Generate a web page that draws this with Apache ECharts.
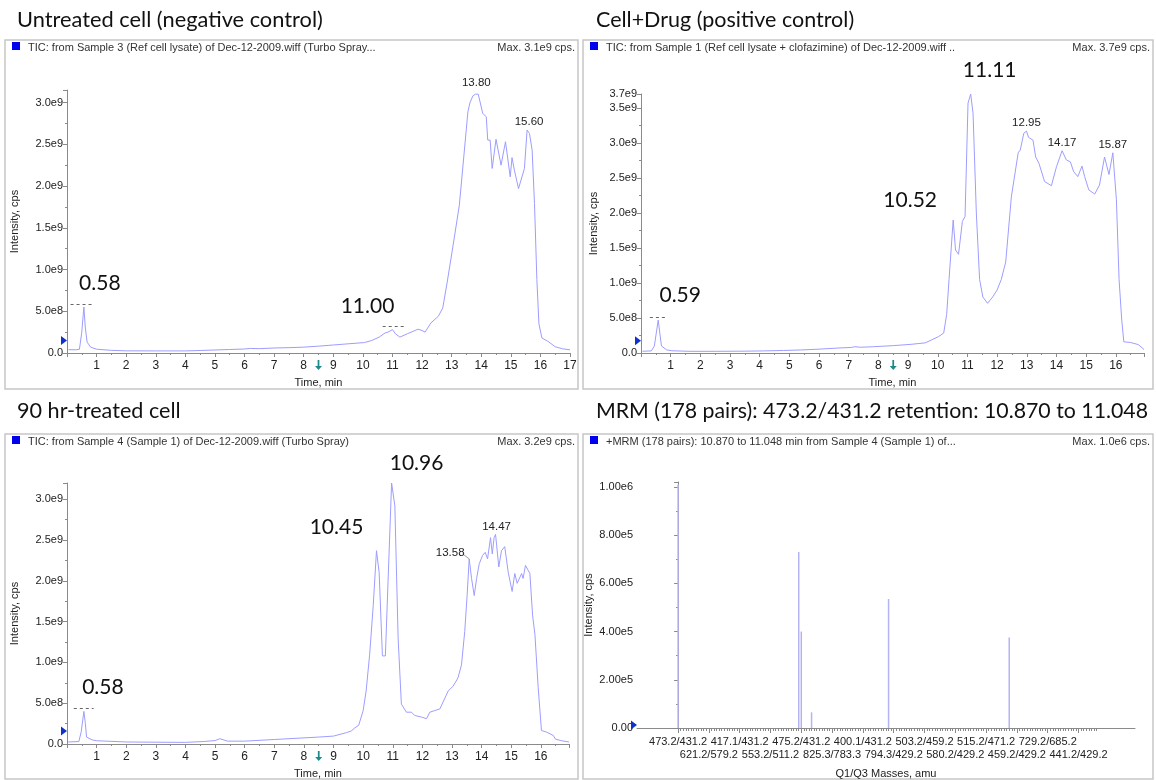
<!DOCTYPE html>
<html><head><meta charset="utf-8">
<script src="https://cdn.jsdelivr.net/npm/echarts@6/dist/echarts.min.js"></script>
<style>html,body{margin:0;padding:0;background:#fff}#c{width:1156px;height:780px}</style>
</head><body><div id="c"></div>
<script>
// ---------- data ----------
const untreatedTrace = [[0.05,0.4e8],[0.3,0.38e8],[0.42,0.45e8],[0.5,2.5e8],[0.57,5.5e8],[0.62,3.0e8],[0.68,1.3e8],[0.8,0.7e8],[1.0,0.45e8],[1.5,0.32e8],[2.0,0.26e8],[3.0,0.25e8],[4.0,0.25e8],[4.5,0.3e8],[5.0,0.36e8],[5.5,0.42e8],[6.0,0.48e8],[6.2,0.55e8],[6.5,0.52e8],[7.0,0.6e8],[7.5,0.64e8],[8.0,0.7e8],[8.5,0.82e8],[9.0,0.96e8],[9.5,1.1e8],[10.05,1.25e8],[10.3,1.5e8],[10.55,1.9e8],[10.75,2.4e8],[10.85,2.5e8],[11.0,2.8e8],[11.1,2.3e8],[11.25,1.9e8],[11.5,2.3e8],[11.7,2.6e8],[11.86,2.85e8],[12.0,2.7e8],[12.1,2.5e8],[12.3,3.6e8],[12.55,4.4e8],[12.7,5.4e8],[12.85,8.5e8],[13.04,1.27e9],[13.26,1.77e9],[13.55,2.89e9],[13.62,3.0e9],[13.72,3.08e9],[13.8,3.1e9],[13.9,3.1e9],[14.05,2.87e9],[14.17,2.83e9],[14.22,2.55e9],[14.3,2.55e9],[14.37,2.21e9],[14.5,2.56e9],[14.67,2.25e9],[14.82,2.53e9],[14.98,2.11e9],[15.04,2.34e9],[15.12,2.19e9],[15.26,1.97e9],[15.46,2.21e9],[15.55,2.67e9],[15.63,2.63e9],[15.72,2.43e9],[15.8,1.79e9],[15.88,0.88e9],[15.95,3.5e8],[16.05,1.8e8],[16.25,1.4e8],[16.5,0.75e8],[16.75,0.5e8],[17.0,0.38e8]];
const drugTrace = [[0.05,0.25e8],[0.35,0.3e8],[0.45,1.0e8],[0.52,3.0e8],[0.58,4.7e8],[0.63,3.0e8],[0.69,1.0e8],[0.86,0.45e8],[1.04,0.32e8],[1.65,0.24e8],[2.5,0.24e8],[3.5,0.26e8],[4.13,0.3e8],[4.8,0.36e8],[5.37,0.43e8],[6.0,0.55e8],[6.6,0.7e8],[7.1,0.8e8],[7.2,0.9e8],[7.4,0.82e8],[7.84,0.9e8],[8.5,1.05e8],[9.1,1.24e8],[9.58,1.45e8],[10.02,2.33e8],[10.2,2.85e8],[10.3,5.5e8],[10.38,1.05e9],[10.52,1.9e9],[10.6,1.47e9],[10.7,1.41e9],[10.83,1.88e9],[10.92,1.95e9],[11.02,3.57e9],[11.11,3.7e9],[11.19,3.42e9],[11.3,2.0e9],[11.41,1.05e9],[11.52,0.8e9],[11.68,0.71e9],[11.85,0.8e9],[12.0,0.9e9],[12.14,1.05e9],[12.29,1.3e9],[12.48,2.23e9],[12.71,2.86e9],[12.78,2.9e9],[12.9,3.14e9],[12.99,3.17e9],[13.06,3.08e9],[13.21,3.04e9],[13.3,2.8e9],[13.41,2.71e9],[13.6,2.45e9],[13.83,2.39e9],[14.0,2.66e9],[14.19,2.89e9],[14.33,2.76e9],[14.47,2.73e9],[14.58,2.59e9],[14.72,2.52e9],[14.86,2.67e9],[14.95,2.52e9],[15.09,2.33e9],[15.29,2.27e9],[15.45,2.4e9],[15.62,2.8e9],[15.77,2.55e9],[15.9,2.86e9],[16.02,2.19e9],[16.11,1.05e9],[16.2,4.7e8],[16.27,1.6e8],[16.5,1.5e8],[16.76,1.2e8],[16.95,0.5e8]];
const treatedTrace = [[0.04,0.25e8],[0.4,0.3e8],[0.48,1.5e8],[0.57,4.0e8],[0.62,2.5e8],[0.66,0.85e8],[0.85,0.5e8],[1.0,0.4e8],[2.0,0.25e8],[3.0,0.22e8],[4.0,0.2e8],[4.6,0.3e8],[5.0,0.42e8],[5.16,0.65e8],[5.42,0.35e8],[6.0,0.35e8],[7.0,0.55e8],[8.0,0.75e8],[8.5,0.85e8],[9.0,0.97e8],[9.44,1.4e8],[9.6,1.6e8],[9.72,1.98e8],[9.85,2.3e8],[10.0,4.1e8],[10.1,6.5e8],[10.22,1.1e9],[10.34,1.7e9],[10.45,2.37e9],[10.54,2.1e9],[10.65,1.08e9],[10.75,1.08e9],[10.84,1.99e9],[10.96,3.2e9],[11.07,2.92e9],[11.18,1.3e9],[11.29,4.9e8],[11.46,3.9e8],[11.63,3.9e8],[11.74,3.5e8],[11.97,3.3e8],[12.14,3.1e8],[12.25,3.9e8],[12.42,4.1e8],[12.59,4.3e8],[12.87,6.5e8],[13.04,7.1e8],[13.2,8.1e8],[13.32,9.7e8],[13.43,1.38e9],[13.51,1.82e9],[13.58,2.27e9],[13.66,2.03e9],[13.75,1.82e9],[13.83,2.03e9],[13.92,2.21e9],[14.03,2.31e9],[14.12,2.35e9],[14.2,2.27e9],[14.3,2.53e9],[14.36,2.33e9],[14.42,2.53e9],[14.47,2.57e9],[14.58,2.17e9],[14.67,2.37e9],[14.78,2.42e9],[14.9,2.1e9],[15.03,1.87e9],[15.12,2.09e9],[15.2,1.97e9],[15.35,2.09e9],[15.4,2.03e9],[15.48,2.19e9],[15.63,2.09e9],[15.72,1.58e9],[15.8,1.34e9],[15.91,6.9e8],[16.02,1.66e8],[16.19,1.46e8],[16.42,1.05e8],[16.49,0.6e8],[16.7,0.4e8],[16.95,0.25e8]];

const mrmIndex = [0, 47, 48, 52, 82, 129];
const mrmIntensity = [1.01e6, 7.3e5, 4.0e5, 6.5e4, 5.35e5, 3.75e5];
const mrmTickIndex = [0,12,24,36,48,60,72,84,96,108,120,132,144,156];
const mrmTickLabels = ['473.2/431.2','621.2/579.2','417.1/431.2','553.2/511.2','475.2/431.2','825.3/783.3','400.1/431.2','794.3/429.2','503.2/459.2','580.2/429.2','515.2/471.2','459.2/429.2','729.2/685.2','441.2/429.2'];

const panelTitles = ['Untreated cell (negative control)','Cell+Drug (positive control)','90 hr-treated cell','MRM (178 pairs): 473.2/431.2 retention: 10.870 to 11.048'];
const headerTexts = ['TIC: from Sample 3 (Ref cell lysate) of Dec-12-2009.wiff (Turbo Spray...','TIC: from Sample 1 (Ref cell lysate + clofazimine) of Dec-12-2009.wiff ..','TIC: from Sample 4 (Sample 1) of Dec-12-2009.wiff (Turbo Spray)','+MRM (178 pairs): 10.870 to 11.048 min from Sample 4 (Sample 1) of...'];
const maxTexts = ['Max. 3.1e9 cps.','Max. 3.7e9 cps.','Max. 3.2e9 cps.','Max. 1.0e6 cps.'];

// peak annotations: [time, text]
const bigLabels = [
  [[0.57,'0.58'],[11.0,'11.00']],
  [[0.58,'0.59'],[10.52,'10.52'],[11.11,'11.11']],
  [[0.57,'0.58'],[10.45,'10.45'],[10.96,'10.96']]
];
const smallLabels = [
  [[13.8,'13.80'],[15.55,'15.60']],
  [[12.99,'12.95'],[14.19,'14.17'],[15.9,'15.87']],
  [[13.58,'13.58'],[14.47,'14.47']]
];
const bigOffsets = [[[16,-24],[-25,-23]],[[22,-25],[-43,-20],[19,-24]],[[19,-24],[-40,-23],[25,-20]]];
const smallOffsets = [[[1,-11],[2,-8]],[[0,-8],[0,-8],[0,-8]],[[-19,-6],[1,-8]]];
const hiddenMarks = [
  [[[0.12,5.86e8],[0.86,5.86e8]],[[10.67,3.23e8],[11.41,3.23e8]]],
  [[[0.3,5.1e8],[0.9,5.1e8]]],
  [[[0.23,4.37e8],[0.9,4.37e8]]]
];
const thresholdLevel = [1.5e8, 1.76e8, 1.58e8, 1.2e4];

// ---------- styles ----------
const NARROW = "'Liberation Sans Narrow','Liberation Sans',Arial,sans-serif";
const BIG = "Lato,'Open Sans',sans-serif";
const AXIS = '#8a8a8a';
const TRACE = '#9d9dff';

const traces = [untreatedTrace, drugTrace, treatedTrace];
const xMax = [17, 16.95, 16.95];
const yMax = [3.15e9, 3.7e9, 3.2e9];
const yNameGap = [47, 42, 47];
const grids = [
  {left:67, top:90, width:503, height:263},
  {left:641, top:94, width:503, height:259},
  {left:67, top:483, width:502, height:264},
  {left:637, top:482, width:498, height:251}
];

function valueAt(trace, t){
  let best = trace[0];
  for (const p of trace) if (Math.abs(p[0]-t) < Math.abs(best[0]-t)) best = p;
  return best;
}
const fmt1 = v => v === 0 ? '0.0' : v.toExponential(1).replace('e+','e');
const fmt2 = v => v === 0 ? '0.00' : v.toExponential(2).replace('e+','e');

const xAxis = [], yAxis = [], series = [];
for (let i = 0; i < 3; i++) {
  xAxis.push({
    gridIndex:i, type:'value', position:'bottom', min:0, max:xMax[i], interval:1,
    axisLine:{lineStyle:{color:AXIS}}, axisTick:{length:4, lineStyle:{color:AXIS}},
    minorTick:{show:true, splitNumber:2, length:2, lineStyle:{color:AXIS}},
    splitLine:{show:false},
    axisLabel:{showMinLabel:false, showMaxLabel:i===0, fontSize:12, color:'#222', margin:7, fontFamily:NARROW},
    name:'Time, min', nameLocation:'middle', nameGap:24,
    nameTextStyle:{fontSize:11, color:'#222', fontFamily:NARROW}
  });
  yAxis.push({
    gridIndex:i, type:'value', min:0, max:yMax[i], interval:5e8,
    axisLine:{show:true, lineStyle:{color:AXIS}}, axisTick:{show:true, length:4, lineStyle:{color:AXIS}},
    minorTick:{show:true, splitNumber:2, length:2, lineStyle:{color:AXIS}},
    splitLine:{show:false},
    axisLabel:{formatter:fmt1, showMaxLabel:i===1, fontSize:11, color:'#222', margin:4, fontFamily:NARROW},
    name:'Intensity, cps', nameLocation:'middle', nameGap:yNameGap[i], nameRotate:90,
    nameTextStyle:{fontSize:11, color:'#222', fontFamily:NARROW}
  });
  const tr = traces[i];
  const mp = [];
  bigLabels[i].forEach((b,k) => {
    const p = valueAt(tr, b[0]);
    mp.push({coord:[p[0],p[1]], symbol:'circle', symbolSize:1, itemStyle:{color:'rgba(0,0,0,0)'},
      label:{show:true, position:'inside', formatter:b[1], offset:bigOffsets[i][k], fontSize:21, color:'#111', fontFamily:BIG}});
  });
  smallLabels[i].forEach((s,k) => {
    const p = valueAt(tr, s[0]);
    mp.push({coord:[p[0],p[1]], symbol:'circle', symbolSize:1, itemStyle:{color:'rgba(0,0,0,0)'},
      label:{show:true, position:'inside', formatter:s[1], offset:smallOffsets[i][k], fontSize:11.5, color:'#222', fontFamily:NARROW}});
  });
  mp.push({coord:[0, thresholdLevel[i]], symbol:'triangle', symbolSize:[9,6], symbolRotate:-90, symbolOffset:[-3,0], itemStyle:{color:'#1030d0'}, label:{show:false}});
  mp.push({coord:[8.5, 0], symbol:'path://M3,0 L5,0 L5,6 L8,6 L4,10 L0,6 L3,6 Z', symbolSize:[7,10], symbolOffset:[0,12], itemStyle:{color:'#1d8a8a'}, label:{show:false}});
  const mlData = hiddenMarks[i].map(seg => [{coord:seg[0], lineStyle:{type:[3,3], color:'#666', width:1}},{coord:seg[1]}]);
  if (i === 2) {
    const p = valueAt(tr, 13.58);
    mlData.push([{coord:[13.36, 2.33e9], lineStyle:{type:'solid', color:'#888', width:0.8}}, {coord:[p[0], p[1]]}]);
  }
  series.push({
    type:'line', xAxisIndex:i, yAxisIndex:i, data:tr, showSymbol:false, symbol:'none',
    lineStyle:{color:TRACE, width:1}, animation:false,
    markPoint:{silent:true, animation:false, data:mp},
    markLine:{silent:true, animation:false, symbol:['none','none'], label:{show:false}, data:mlData}
  });
}
// MRM panel: row-1 labels + major ticks, row-2 labels + minor ticks
const minorIdx = [];
for (let k = 0; k <= 163; k++) minorIdx.push(k);
const evenIdx = mrmTickIndex.filter((v,k) => k % 2 === 0);
const oddIdx = mrmTickIndex.filter((v,k) => k % 2 === 1);
const mrmFmt = v => { const k = mrmTickIndex.indexOf(v); return k < 0 ? '' : mrmTickLabels[k]; };
xAxis.push({
  gridIndex:3, type:'value', position:'bottom', min:-16, max:178,
  axisLine:{lineStyle:{color:AXIS}}, splitLine:{show:false},
  axisTick:{length:5, customValues:mrmTickIndex, lineStyle:{color:AXIS}},
  axisLabel:{customValues:evenIdx, showMinLabel:true, showMaxLabel:true,
    fontSize:11, color:'#222', margin:8, fontFamily:NARROW, formatter:mrmFmt},
  name:'Q1/Q3 Masses, amu', nameLocation:'middle', nameGap:40,
  nameTextStyle:{fontSize:11, color:'#222', fontFamily:NARROW}
});
xAxis.push({
  gridIndex:3, type:'value', position:'bottom', min:-16, max:178,
  axisLine:{show:false}, splitLine:{show:false},
  axisLabel:{customValues:oddIdx, showMinLabel:true, showMaxLabel:true,
    fontSize:11, color:'#222', margin:21, fontFamily:NARROW, formatter:mrmFmt},
  axisTick:{length:3, customValues:minorIdx, lineStyle:{color:AXIS}}
});
yAxis.push({
  gridIndex:3, type:'value', min:0, max:1.02e6, interval:2e5,
  axisLine:{show:true, lineStyle:{color:AXIS}}, axisTick:{show:true, length:4, lineStyle:{color:AXIS}},
  minorTick:{show:true, splitNumber:2, length:2, lineStyle:{color:AXIS}},
  splitLine:{show:false},
  axisLabel:{formatter:fmt2, showMaxLabel:false, fontSize:11, color:'#222', margin:4, fontFamily:NARROW},
  name:'Intensity, cps', nameLocation:'middle', nameGap:43, nameRotate:90,
  nameTextStyle:{fontSize:11, color:'#222', fontFamily:NARROW}
});
series.push({
  type:'bar', xAxisIndex:3, yAxisIndex:3, barWidth:1.5, animation:false,
  data: mrmIndex.map((x,k) => [x, mrmIntensity[k]]),
  itemStyle:{color:'#b4b4f4'},
  markPoint:{silent:true, animation:false, data:[{coord:[-16, thresholdLevel[3]], symbol:'triangle', symbolSize:[9,6], symbolRotate:-90, symbolOffset:[-3,0], itemStyle:{color:'#1030d0'}, label:{show:false}}]}
});

// frames & texts
const frames = [[5,40,573,349],[583,40,570,349],[5,434,573,345],[583,434,570,345]];
const titlePos = [[17,20],[596,20],[17,411],[596,411]];
const titleSize = [21.8, 21.5, 21.6, 21.3];
const graphic = [];
frames.forEach((f,i) => {
  graphic.push({type:'rect', shape:{x:f[0], y:f[1], width:f[2], height:f[3]}, style:{fill:'none', stroke:'#c6c6c6', lineWidth:1.5}, silent:true});
  graphic.push({type:'rect', shape:{x:f[0]+7, y:f[1]+2, width:8, height:8}, style:{fill:'#0000ee'}, silent:true});
  graphic.push({type:'text', x:f[0]+23, y:f[1]+8, style:{text:headerTexts[i], fontSize:11, fill:'#333', fontFamily:NARROW, verticalAlign:'middle'}, silent:true});
  graphic.push({type:'text', x:f[0]+f[2]-3, y:f[1]+8, style:{text:maxTexts[i], fontSize:11, fill:'#333', fontFamily:NARROW, align:'right', verticalAlign:'middle'}, silent:true});
  graphic.push({type:'text', x:titlePos[i][0], y:titlePos[i][1], style:{text:panelTitles[i], fontSize:titleSize[i], fill:'#111', fontFamily:BIG, verticalAlign:'middle'}, silent:true});
});

const chart = echarts.init(document.getElementById('c'), null, {renderer:'canvas'});
chart.setOption({
  animation:false, backgroundColor:'#fff',
  grid:grids, xAxis:xAxis, yAxis:yAxis, series:series, graphic:graphic
});
</script></body></html>
